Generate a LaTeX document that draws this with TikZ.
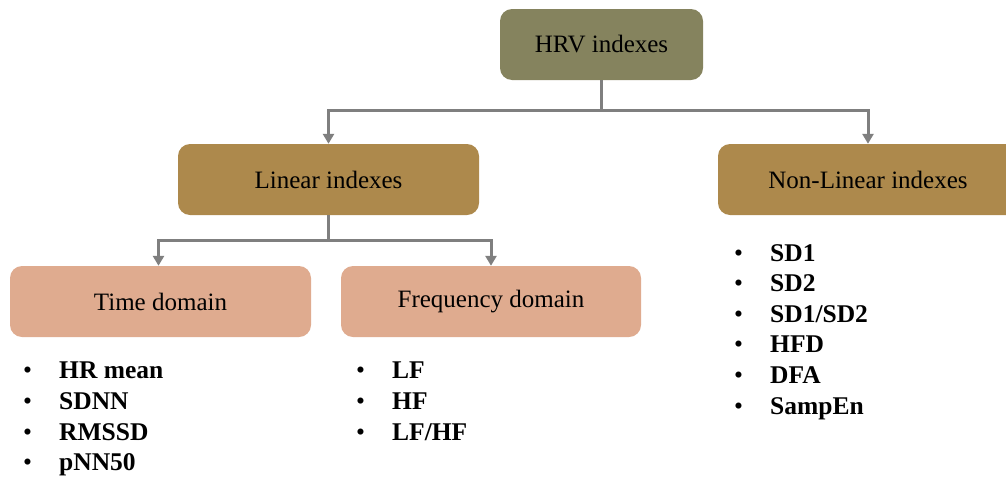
\documentclass[tikz,border=0pt]{standalone}
\usepackage{fontspec}
\setmainfont{Liberation Serif}
\usetikzlibrary{arrows.meta}
\definecolor{olivebox}{RGB}{133,131,94}
\definecolor{brownbox}{RGB}{173,137,76}
\definecolor{pinkbox}{RGB}{223,171,143}
\definecolor{conn}{RGB}{127,127,127}
\tikzset{
  box/.style={rounded corners=12pt, minimum width=301pt, minimum height=71pt, inner sep=0pt,
    font=\fontsize{25}{30}\selectfont, text=black},
  conline/.style={draw=conn, line width=3pt},
  arr/.style={conline, -{Triangle[length=10pt,width=11pt]}},
  lst/.style={anchor=north west, align=left, inner sep=0pt,
    font=\fontsize{25.5}{30.6}\selectfont\bfseries},
}
\newcommand{\bul}[1]{\makebox[36pt][l]{\mdseries\textbullet}#1}
\begin{document}
\begin{tikzpicture}[x=1pt,y=-1pt]
\useasboundingbox (0,0) rectangle (1006,477);
\clip (0,0) rectangle (1006,477);
\node[box, fill=olivebox, minimum width=203pt] (hrv) at (601.5,44.5) {HRV indexes};
\node[box, fill=brownbox] (lin) at (328.5,179.5) {Linear indexes};
\node[box, fill=brownbox, minimum width=300pt] (nonlin) at (868,179.5) {Non-Linear indexes};
\node[box, fill=pinkbox] (time) at (160.5,301.5) {Time domain};
\node[box, fill=pinkbox, minimum width=300pt] (freq) at (491,301.5) {Frequency domain};
\draw[conline] (hrv.south) -- ++(0,30) coordinate (j1);
\draw[arr] (j1) -| (lin.north);
\draw[arr] (j1) -| (nonlin.north);
\draw[conline] (lin.south) -- ++(0,25) coordinate (j2);
\draw[arr] (j2) -| ([xshift=-2pt]time.north);
\draw[arr] (j2) -| (freq.north);
\node[lst] (tlist) at (23,362) {\bul{HR mean}\\\bul{SDNN}\\\bul{RMSSD}\\\bul{pNN50}};
\node[lst] (flist) at (356,362) {\bul{LF}\\\bul{HF}\\\bul{LF/HF}};
\node[lst] (nlist) at (734,244) {\bul{SD1}\\\bul{SD2}\\\bul{SD1/SD2}\\\bul{HFD}\\\bul{DFA}\\\bul{SampEn}};
\end{tikzpicture}
\end{document}
